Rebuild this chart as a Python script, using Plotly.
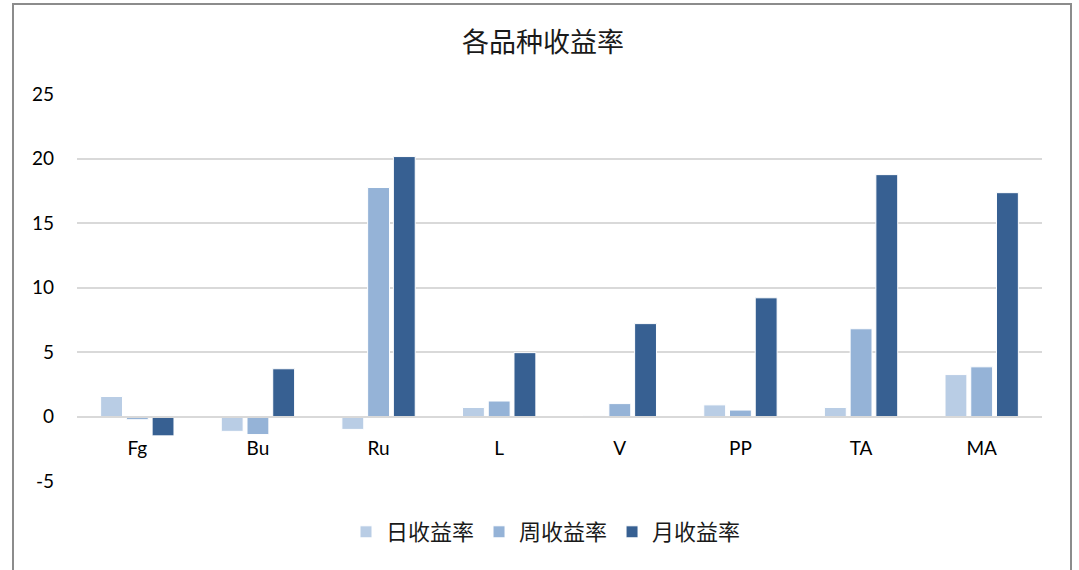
import plotly.graph_objects as go

categories = ["Fg", "Bu", "Ru", "L", "V", "PP", "TA", "MA"]
daily = [1.55, -1.15, -1.0, 0.7, 0.05, 0.9, 0.7, 3.25]
weekly = [-0.25, -1.4, 17.75, 1.2, 1.0, 0.5, 6.8, 3.85]
monthly = [-1.5, 3.7, 20.15, 4.95, 7.2, 9.2, 18.75, 17.35]
series_names = ["日收益率", "周收益率", "月收益率"]
colors = ["#B9CDE5", "#95B3D7", "#376092"]
y_ticks = [-5, 0, 5, 10, 15, 20, 25]
y_tick_labels = ["-5", "0", "5", "10", "15", "20", "25"]

fig = go.Figure()
for name, vals, col in zip(series_names, [daily, weekly, monthly], colors):
    fig.add_trace(go.Bar(
        x=categories, y=vals, name=name,
        marker=dict(color=col, line=dict(color="white", width=1)),
    ))

W, H = 1079, 570
L, T = 77, 94
R = W - 1042
B = H - 481
plot_w = W - L - R
plot_h = H - T - B

def px_x(page_x):
    return (page_x - L) / plot_w

def px_y(page_y):
    return (481 - page_y) / plot_h

fig.update_layout(
    width=W, height=H,
    margin=dict(l=L, r=R, t=T, b=B),
    paper_bgcolor="white", plot_bgcolor="white",
    barmode="group", bargap=0.36, bargroupgap=0.15,
    font=dict(family="Lato, 'Noto Sans CJK SC'", color="#000000", size=19),
    title=dict(text="各品种收益率", x=543 / W, xref="container", xanchor="center",
               y=1 - 43 / H, yref="container", yanchor="middle",
               font=dict(family="'Noto Sans CJK SC'", size=27, color="#1a1a1a")),
    legend=dict(orientation="h", x=px_x(546), xanchor="center",
                y=px_y(532), yanchor="middle",
                font=dict(family="'Noto Sans CJK SC'", size=22, color="#1a1a1a"),
                itemwidth=30, traceorder="normal"),
    showlegend=True,
)
fig.update_yaxes(range=[-5, 25], tickvals=y_ticks, ticktext=y_tick_labels, showgrid=True,
                 gridcolor="#D9D9D9", gridwidth=1.5, zeroline=False, showline=False, ticks="",
                 ticklabelstandoff=22, tickfont=dict(size=19), automargin=False)
fig.update_xaxes(anchor="free", position=5 / 30, showline=True, linecolor="#D9D9D9",
                 linewidth=1.5, ticks="", ticklabelstandoff=15, tickfont=dict(size=19),
                 showgrid=False, automargin=False)

# outer chart border
fig.add_shape(type="rect", xref="paper", yref="paper",
              x0=px_x(13), x1=px_x(1071),
              y0=px_y(620), y1=px_y(4),
              line=dict(color="#8C8C8C", width=2), fillcolor="rgba(0,0,0,0)", layer="below")

fig.write_html("out.html", config={"displayModeBar": False},
               post_script="document.body.style.margin='0';document.body.style.overflow='hidden';")
